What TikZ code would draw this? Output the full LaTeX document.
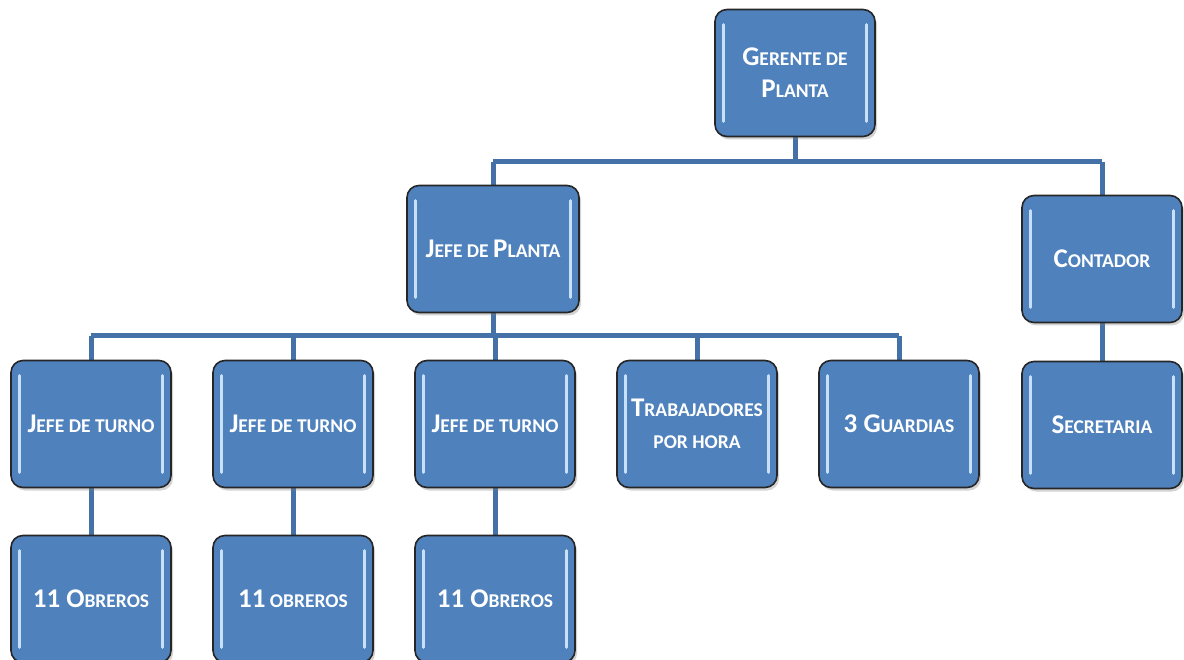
\documentclass[tikz,border=0pt]{standalone}
\usepackage{fontspec}
\setmainfont{Carlito}
\usetikzlibrary{shadows,calc}
\definecolor{boxblue}{HTML}{4F81BD}
\definecolor{linkblue}{HTML}{4472A8}
\definecolor{hilite}{HTML}{D6ECFF}
\newcommand\bigc[1]{{\fontsize{27}{32}\selectfont #1}}
\tikzset{
  orgbox/.style={draw=black!85, line width=1.6pt, fill=boxblue, rounded corners=12pt,
    minimum width=160pt, minimum height=127pt, inner sep=2pt, align=center,
    text=white, font=\bfseries\fontsize{19.5}{32}\selectfont,
    drop shadow={opacity=0.35, shadow xshift=2pt, shadow yshift=-3pt}},
  link/.style={draw=linkblue, line width=5pt},
  shine/.style={draw=hilite, line width=3pt, line cap=round, opacity=0.9}
}
\newcommand\orgnode[5][]{%
  \node[orgbox,#1] (#2) at (#3,#4) {#5};
  \draw[shine] ($(#2.north west)+(9,16)$) -- ($(#2.south west)+(9,-16)$);
  \draw[shine] ($(#2.north east)+(-9,16)$) -- ($(#2.south east)+(-9,-16)$);
}
\begin{document}
\begin{tikzpicture}[x=1pt,y=-1pt]
\useasboundingbox (0,0) rectangle (1184,660);
% connectors first
\coordinate (h1) at (795,162);
\coordinate (h2) at (493,336);
\draw[link] (795,137) -- (h1);
\draw[link] (493,162) -- (1102,162);
\draw[link] (493,162) -- (493,190);
\draw[link] (1102,162) -- (1102,200);
\draw[link] (493,310) -- (h2);
\draw[link] (91,336) -- (899,336);
\foreach \x in {91,293,495,697,899} \draw[link] (\x,336) -- (\x,365);
\foreach \x in {91,293,495} \draw[link] (\x,485) -- (\x,540);
\draw[link] (1102,320) -- (1102,365);
% boxes
\orgnode{ger}{795}{73}{\bigc{G}ERENTE DE\\\bigc{P}LANTA}
\orgnode[minimum width=172pt]{jp}{493}{249}{\bigc{J}EFE DE \bigc{P}LANTA}
\orgnode{cont}{1102}{259}{\bigc{C}ONTADOR}
\orgnode{jt1}{91}{424}{\bigc{J}EFE DE TURNO}
\orgnode{jt2}{293}{424}{\bigc{J}EFE DE TURNO}
\orgnode{jt3}{495}{424}{\bigc{J}EFE DE TURNO}
\orgnode{trab}{697}{424}{\bigc{T}RABAJADORES\\POR HORA}
\orgnode{guard}{899}{424}{\bigc{3 G}UARDIAS}
\orgnode{sec}{1102}{425}{\bigc{S}ECRETARIA}
\orgnode{ob1}{91}{599}{\bigc{11 O}BREROS}
\orgnode{ob2}{293}{599}{\bigc{11} OBREROS}
\orgnode{ob3}{495}{599}{\bigc{11 O}BREROS}
\end{tikzpicture}
\end{document}
